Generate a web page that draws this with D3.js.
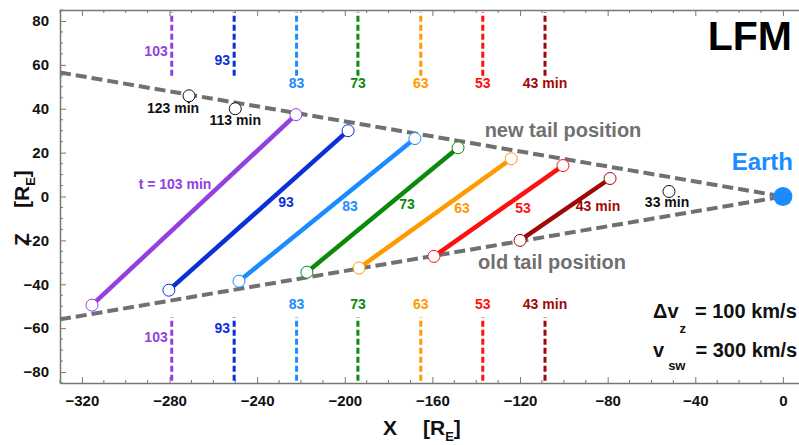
<!DOCTYPE html>
<html>
<head>
<meta charset="utf-8">
<script src="https://cdn.jsdelivr.net/npm/d3@7"></script>
<style>
    body { margin: 0; background: #fff; }
    text { font-family: "Liberation Sans", Arial, Helvetica, sans-serif; font-weight: bold; }
</style>
</head>
<body>
<div id="chart"></div>
<script>
// times (min) and colours of each tail snapshot
const times = [103, 93, 83, 73, 63, 53, 43];
const colors = ["#9440e0", "#0a30d6", "#1a8cff", "#0a8a0a", "#ff9900", "#ff1010", "#a00808"];
// x of the vertical dashed markers
const markerX = [-279, -250.5, -222, -194, -165.3, -137, -108.6];
// end points of the coloured segments
const lowerX = [-315.4, -280.3, -248.3, -217.3, -193.5, -159.3, -120];
const lowerZ = [-49.5, -42.7, -38.6, -34.5, -32.6, -27.3, -20];
const upperX = [-222.3, -198.5, -168, -148.3, -124, -100.4, -78.9];
const upperZ = [37.3, 30, 26.4, 22.2, 17.2, 14.1, 8.2];
// labels on the segments
const segLabels = ["t = 103 min", "93", "83", "73", "63", "53", "43 min"];
const segLabelX = [-277.5, -226.8, -197.6, -171.6, -146.5, -118.6, -84.4];
const segLabelZ = [3.2, -5, -6.8, -5.9, -7.3, -7.3, -6.8];
// labels of the vertical markers
const markerLabels = ["103", "93", "83", "73", "63", "53", "43 min"];
// black points
const blackX = [-271.1, -250, -52];
const blackZ = [45.9, 40, 2.3];
const blackLabels = ["123 min", "113 min", "33 min"];
const blackLabelX = [-278.4, -250, -52.9];
const blackLabelZ = [38.2, 32.7, -5];
// tail boundaries
const newTailX = [-330, 0];
const newTailZ = [56.5, 0];
const oldTailX = [-330, 0];
const oldTailZ = [-56, 0];
// axes
const xTicks = [-320, -280, -240, -200, -160, -120, -80, -40, 0];
const zTicks = [-80, -60, -40, -20, 0, 20, 40, 60, 80];

const width = 799, height = 445;
const margin = {top: 10, right: -1, bottom: 62, left: 60};

const svg = d3.select("#chart").append("svg")
    .attr("width", width).attr("height", height);

const x = d3.scaleLinear().domain([-330, 7.8]).range([margin.left, width - margin.right]);
const y = d3.scaleLinear().domain([-85, 85]).range([height - margin.bottom, margin.top]);

const axisColor = "#777";

// minor ticks
const xMinor = d3.range(-330, 8, 10).filter(v => xTicks.indexOf(v) < 0);
const zMinor = d3.range(-85, 86, 5).filter(v => zTicks.indexOf(v) < 0);

// bottom axis
const gx = svg.append("g")
    .attr("transform", `translate(0,${y(-85)})`)
    .call(d3.axisBottom(x).tickValues(xTicks).tickSizeInner(-6).tickSizeOuter(0).tickPadding(12).tickFormat(d3.format("d")));
gx.append("g").selectAll("line").data(xMinor).join("line")
    .attr("x1", d => x(d)).attr("x2", d => x(d)).attr("y1", 0).attr("y2", -3).attr("stroke", axisColor);

// top axis (ticks only)
const gt = svg.append("g")
    .attr("transform", `translate(0,${y(85)})`)
    .call(d3.axisTop(x).tickValues(xTicks).tickSizeInner(-6).tickSizeOuter(0).tickFormat(""));
gt.append("g").selectAll("line").data(xMinor).join("line")
    .attr("x1", d => x(d)).attr("x2", d => x(d)).attr("y1", 0).attr("y2", 3).attr("stroke", axisColor);

// left axis
const gy = svg.append("g")
    .attr("transform", `translate(${x(-330)},0)`)
    .call(d3.axisLeft(y).tickValues(zTicks).tickSizeInner(-6).tickSizeOuter(0).tickPadding(11).tickFormat(d3.format("d")));
gy.append("g").selectAll("line").data(zMinor).join("line")
    .attr("y1", d => y(d)).attr("y2", d => y(d)).attr("x1", 0).attr("x2", 3).attr("stroke", axisColor);

svg.selectAll(".domain").attr("stroke", axisColor).attr("stroke-width", 1.5);
svg.selectAll(".tick line").attr("stroke", axisColor);
svg.selectAll(".tick text").attr("font-size", 15).attr("fill", "#111")
    .attr("font-family", "Liberation Sans, Arial, sans-serif").attr("font-weight", "bold");

// axis titles
const xt = svg.append("text").attr("x", 383).attr("y", 435).attr("font-size", 21).attr("fill", "#111");
xt.append("tspan").text("X");
xt.append("tspan").attr("x", 423).text("[R");
xt.append("tspan").attr("font-size", 13).attr("dy", 6).text("E");
xt.append("tspan").attr("dy", -6).text("]");

const yt = svg.append("text").attr("transform", "rotate(-90)")
    .attr("x", -246).attr("y", 29).attr("font-size", 21).attr("fill", "#111");
yt.append("tspan").text("Z");
yt.append("tspan").attr("x", -208).text("[R");
yt.append("tspan").attr("font-size", 13).attr("dy", 6).text("E");
yt.append("tspan").attr("dy", -6).text("]");

// vertical markers, top and bottom
times.forEach((t, i) => {
    [[55, 84], [-84, -55]].forEach(r => {
        svg.append("line")
            .attr("x1", x(markerX[i])).attr("x2", x(markerX[i]))
            .attr("y1", y(r[0])).attr("y2", y(r[1]))
            .attr("stroke", colors[i]).attr("stroke-width", 3)
            .attr("stroke-dasharray", "6,3");
    });
    if (i < 2) {
        const zTop = i === 0 ? 64 : 60;
        const zBot = i === 0 ? -66.4 : -62;
        [zTop, zBot].forEach(z => {
            svg.append("text").attr("x", x(markerX[i]) - 4).attr("y", y(z))
                .attr("text-anchor", "end").attr("font-size", 14).attr("fill", colors[i])
                .text(markerLabels[i]);
        });
    } else {
        [49.5, -51.4].forEach(z => {
            svg.append("text").attr("x", x(markerX[i])).attr("y", y(z))
                .attr("text-anchor", "middle").attr("font-size", 14).attr("fill", colors[i])
                .text(markerLabels[i]);
        });
    }
});

// tail boundaries
const line = d3.line().x(d => x(d[0])).y(d => y(d[1]));
[[newTailX, newTailZ], [oldTailX, oldTailZ]].forEach(b => {
    svg.append("path")
        .datum(b[0].map((v, i) => [v, b[1][i]]))
        .attr("fill", "none").attr("stroke", "#707070").attr("stroke-width", 4)
        .attr("stroke-dasharray", "11,5")
        .attr("d", line);
});

// coloured segments
times.forEach((t, i) => {
    svg.append("path")
        .datum([[lowerX[i], lowerZ[i]], [upperX[i], upperZ[i]]])
        .attr("fill", "none").attr("stroke", colors[i]).attr("stroke-width", 4.5)
        .attr("d", line);
    [[lowerX[i], lowerZ[i]], [upperX[i], upperZ[i]]].forEach(p => {
        svg.append("circle").attr("cx", x(p[0])).attr("cy", y(p[1])).attr("r", 6)
            .attr("fill", "#fff").attr("stroke", colors[i]).attr("stroke-width", 1);
    });
    svg.append("text").attr("x", x(segLabelX[i])).attr("y", y(segLabelZ[i]))
        .attr("text-anchor", "middle").attr("font-size", 14).attr("fill", colors[i])
        .text(segLabels[i]);
});

// black points
blackX.forEach((v, i) => {
    svg.append("circle").attr("cx", x(v)).attr("cy", y(blackZ[i])).attr("r", 6)
        .attr("fill", "#fff").attr("stroke", "#111").attr("stroke-width", 1);
    svg.append("text").attr("x", x(blackLabelX[i])).attr("y", y(blackLabelZ[i]))
        .attr("text-anchor", "middle").attr("font-size", 14).attr("fill", "#111")
        .text(blackLabels[i]);
});

// Earth
svg.append("circle").attr("cx", x(0)).attr("cy", y(0)).attr("r", 9.5).attr("fill", "#1a8cff");
svg.append("text").attr("x", 793).attr("y", 170).attr("text-anchor", "end")
    .attr("font-size", 24).attr("fill", "#1a8cff").text("Earth");

// tail labels
svg.append("text").attr("x", 563).attr("y", 137).attr("text-anchor", "middle")
    .attr("font-size", 20).attr("fill", "#707070").text("new tail position");
svg.append("text").attr("x", 552).attr("y", 269).attr("text-anchor", "middle")
    .attr("font-size", 20).attr("fill", "#707070").text("old tail position");

// title
svg.append("text").attr("x", 792).attr("y", 50).attr("text-anchor", "end")
    .attr("font-size", 41).attr("fill", "#000").text("LFM");

// parameters
const p1 = svg.append("text").attr("x", 653).attr("y", 318).attr("font-size", 20).attr("fill", "#111");
p1.append("tspan").text("Δv");
p1.append("tspan").attr("font-size", 13).attr("dy", 15).attr("dx", 1).text("z");
p1.append("tspan").attr("dy", -15).attr("dx", 9).text("= 100 km/s");

const p2 = svg.append("text").attr("x", 653).attr("y", 357).attr("font-size", 20).attr("fill", "#111");
p2.append("tspan").text("v");
p2.append("tspan").attr("font-size", 13).attr("dy", 13).attr("dx", 4).text("sw");
p2.append("tspan").attr("dy", -13).attr("dx", 10).text("= 300 km/s");
</script>
</body>
</html>
